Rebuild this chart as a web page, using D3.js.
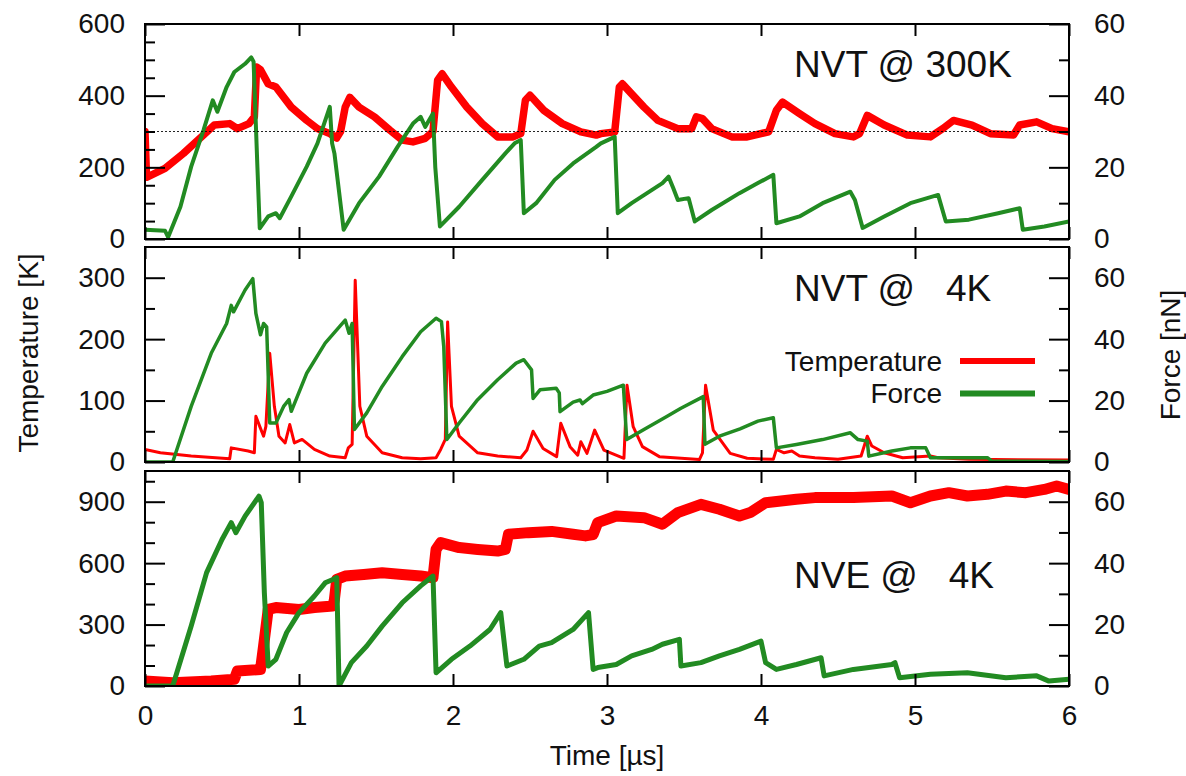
<!DOCTYPE html>
<html><head><meta charset="utf-8">
<script src="https://cdn.jsdelivr.net/npm/d3@7"></script>
<style>
html,body{margin:0;padding:0;background:#fff;}
svg text{font-family:"Liberation Sans",Arial,sans-serif;fill:#111;}
</style></head>
<body>
<svg id="chart" width="1186" height="776"></svg>
<script>
// ---------- data (time in µs) ----------
const xTicks = [0,1,2,3,4,5,6];

// Panel 1: NVT @ 300K
const nvt300Temp = [[0,300],[0.01,172],[0.13,197],[0.25,239],[0.38,290],[0.45,318],[0.55,322],[0.60,308],[0.675,322],[0.71,341],[0.725,480],[0.75,472],[0.80,433],[0.85,424],[0.95,368],[1.05,331],[1.12,308],[1.20,294],[1.245,282],[1.27,300],[1.30,368],[1.33,395],[1.39,368],[1.49,341],[1.59,304],[1.67,276],[1.74,271],[1.82,281],[1.87,300],[1.90,443],[1.93,461],[1.99,424],[2.09,368],[2.19,322],[2.29,285],[2.39,285],[2.44,294],[2.47,387],[2.50,401],[2.59,359],[2.71,322],[2.83,299],[2.93,290],[2.96,294],[3.05,299],[3.08,424],[3.10,433],[3.16,405],[3.24,368],[3.33,331],[3.46,308],[3.55,308],[3.58,341],[3.62,336],[3.68,308],[3.81,285],[3.91,285],[4.05,299],[4.10,359],[4.14,382],[4.25,350],[4.35,322],[4.48,294],[4.60,285],[4.64,294],[4.69,345],[4.80,318],[4.95,290],[5.10,285],[5.18,308],[5.25,331],[5.37,318],[5.49,294],[5.64,290],[5.68,318],[5.79,327],[5.89,308],[6.0,299]];
const nvt300Force = [[0,2.6],[0.13,2.3],[0.15,0.5],[0.23,9],[0.30,20.2],[0.38,30.4],[0.44,38.7],[0.47,35.5],[0.53,42.4],[0.58,46.6],[0.65,48.9],[0.69,50.7],[0.705,49.5],[0.73,20],[0.745,3],[0.80,6.3],[0.85,7.2],[0.875,5.8],[0.95,11.9],[1.05,20.2],[1.12,26.7],[1.20,36.9],[1.215,26.7],[1.23,23.9],[1.29,2.6],[1.39,10],[1.52,17.4],[1.64,25.7],[1.74,32.2],[1.79,34.1],[1.82,31.3],[1.87,35],[1.885,20],[1.915,3.5],[2.04,9],[2.19,16.5],[2.34,23.9],[2.40,26.7],[2.44,27.6],[2.46,7.2],[2.54,10],[2.66,16.5],[2.78,21.1],[2.93,25.7],[2.96,26.7],[3.05,28.5],[3.07,7.2],[3.16,10],[3.26,12.8],[3.36,15.6],[3.40,17.4],[3.43,14.2],[3.46,10.9],[3.53,11.4],[3.57,4.9],[3.68,8.1],[3.86,12.8],[3.98,15.6],[4.08,17.9],[4.10,4.4],[4.25,6.3],[4.40,10],[4.58,13.2],[4.61,10.9],[4.66,3.1],[4.80,6.3],[4.97,10],[5.15,12.3],[5.20,4.9],[5.35,5.4],[5.54,7.2],[5.68,8.6],[5.70,2.6],[5.84,3.5],[6.0,4.9]];

// Panel 2: NVT @ 4K
const nvt4Temp = [[0,20.5],[0.10,15],[0.30,9.7],[0.55,5.4],[0.56,23],[0.67,17.8],[0.71,15],[0.72,74.5],[0.745,58],[0.77,42],[0.785,58],[0.81,177],[0.84,90.7],[0.87,42],[0.91,31],[0.94,61],[0.97,31],[1.02,36.7],[1.10,20.5],[1.20,9.7],[1.30,7],[1.32,23],[1.345,28.6],[1.365,296],[1.395,90.7],[1.44,42],[1.54,15],[1.67,7],[1.79,5.4],[1.89,7],[1.92,20.5],[1.95,36.7],[1.965,228],[1.99,90.7],[2.04,42],[2.16,15],[2.29,9.7],[2.44,7],[2.48,19.5],[2.52,50],[2.585,22],[2.673,8.7],[2.70,63],[2.76,25],[2.81,11],[2.83,33],[2.87,14],[2.92,52],[2.98,19.5],[3.09,8],[3.11,6],[3.13,125],[3.17,57.5],[3.23,25],[3.34,8.7],[3.60,4],[3.62,15],[3.64,125],[3.69,52],[3.80,14],[3.91,6],[4.08,4.3],[4.10,20.5],[4.15,15],[4.20,17.8],[4.25,9.7],[4.35,7],[4.50,4.3],[4.65,9.7],[4.69,42],[4.72,26],[4.80,15],[4.92,7],[5.10,9.7],[5.15,7],[5.35,4.3],[6.0,3.2]];
const nvt4Force = [[0,0],[0.18,0],[0.30,18.1],[0.43,35.4],[0.53,45.1],[0.56,51],[0.575,48.9],[0.65,56],[0.70,59.7],[0.72,48.4],[0.75,41.4],[0.77,45.1],[0.79,44],[0.81,12.7],[0.85,12.7],[0.90,18.1],[0.935,20.3],[0.95,16.5],[1.05,28.9],[1.17,38.7],[1.30,46.2],[1.325,41.9],[1.345,45.1],[1.36,10.6],[1.44,16],[1.54,24.6],[1.67,34.3],[1.79,42.4],[1.89,46.8],[1.925,45.7],[1.94,37.6],[1.96,7.3],[2.04,12.7],[2.16,20.3],[2.29,26.8],[2.41,32.2],[2.46,33.3],[2.51,30],[2.52,20.7],[2.565,23.5],[2.67,24],[2.69,22.5],[2.695,16.4],[2.78,19.5],[2.825,20.2],[2.84,19],[2.91,21.8],[3.0,23],[3.106,25],[3.128,7.3],[3.24,10.6],[3.388,14.8],[3.48,17.5],[3.625,21.3],[3.636,5.8],[3.73,8.4],[3.864,10.8],[3.98,13.3],[4.08,14.4],[4.10,4.6],[4.23,5.7],[4.40,7.3],[4.58,9.5],[4.63,7.3],[4.69,6.8],[4.70,1.9],[4.85,3.6],[4.97,4.6],[5.07,4.6],[5.10,1.4],[5.35,1.4],[5.47,1.4],[5.50,0.3],[6.0,0.2]];

// Panel 3: NVE @ 4K
const nve4Temp = [[0,24],[0.18,16],[0.43,24],[0.58,33],[0.60,73],[0.75,81],[0.77,195],[0.80,374],[0.85,383],[1.0,374],[1.10,383],[1.22,391],[1.23,423],[1.245,521],[1.30,537],[1.42,545],[1.54,553],[1.67,545],[1.79,537],[1.87,529],[1.89,667],[1.92,700],[2.04,676],[2.16,667],[2.29,659],[2.34,667],[2.36,741],[2.49,749],[2.64,755],[2.78,741],[2.86,733],[2.91,740],[2.94,798],[3.06,830],[3.24,822],[3.36,790],[3.46,847],[3.61,887],[3.73,863],[3.86,830],[3.93,847],[4.03,895],[4.23,912],[4.35,920],[4.60,920],[4.85,928],[4.97,895],[5.10,928],[5.22,944],[5.34,928],[5.47,936],[5.59,952],[5.72,944],[5.84,960],[5.92,977],[6.0,960]];
const nve4Force = [[0,0],[0.18,0],[0.30,19.5],[0.40,36.9],[0.50,47.7],[0.56,53.2],[0.59,49.9],[0.65,55.3],[0.74,61.8],[0.755,59.7],[0.775,30.4],[0.80,6.5],[0.85,8.7],[0.92,17.4],[1.0,23.9],[1.10,29.3],[1.17,33.6],[1.22,34.7],[1.245,35.3],[1.26,0],[1.34,7.6],[1.44,13],[1.54,19.5],[1.67,27.1],[1.79,32.6],[1.87,35.8],[1.89,4.3],[1.99,8.7],[2.11,13],[2.24,18.4],[2.31,23.9],[2.35,6.5],[2.46,8.7],[2.56,13],[2.64,14.1],[2.78,18.4],[2.88,23.9],[2.91,5.4],[2.94,6],[3.06,7],[3.16,9.8],[3.29,11.9],[3.36,13.6],[3.47,15.2],[3.48,6.5],[3.61,7.6],[3.73,9.8],[3.86,11.9],[4.0,14.6],[4.03,7.6],[4.10,5.4],[4.23,7],[4.39,9.2],[4.41,3.3],[4.60,5.4],[4.85,7],[4.87,7.6],[4.90,2.7],[5.10,3.8],[5.34,4.3],[5.59,2.7],[5.79,3.3],[5.87,1.6],[6.0,2.2]];

// tick labels
const p1TempTicks = [0,200,400,600], p1TempMinor = [50,100,150,250,300,350,450,500,550];
const p2TempTicks = [0,100,200,300], p2TempMinor = [50,150,250];
const p3TempTicks = [0,300,600,900], p3TempMinor = [100,200,400,500,700,800,1000];
const forceTicks = [0,20,40,60], forceMinor = [10,30,50];
const panelLabels = ["NVT @ 300K","NVT @   4K","NVE @   4K"];
const legendLabels = ["Temperature","Force"];
const refTemp = 300;

// ---------- drawing ----------
const RED = "#ff0000", GREEN = "#228b22";
const svg = d3.select("#chart");
const X0 = 145, X1 = 1069;
const x = d3.scaleLinear().domain([0,6]).range([X0,X1]);

const panels = [
  {top:24, bottom:239, tMax:600, fMax:60, tT:p1TempTicks, tM:p1TempMinor, T:nvt300Temp, F:nvt300Force, tw:7.5, fw:4, label:panelLabels[0], ly:77, ref:true},
  {top:247, bottom:462, tMax:350, fMax:70, tT:p2TempTicks, tM:p2TempMinor, T:nvt4Temp, F:nvt4Force, tw:3, fw:3.5, label:panelLabels[1], ly:301, legend:true},
  {top:471, bottom:686, tMax:1050, fMax:70, tT:p3TempTicks, tM:p3TempMinor, T:nve4Temp, F:nve4Force, tw:11, fw:5, label:panelLabels[2], ly:588, xlabels:true}
];

const FS = 28;
panels.forEach((p,i)=>{
  const yT = d3.scaleLinear().domain([0,p.tMax]).range([p.bottom,p.top]);
  const yF = d3.scaleLinear().domain([0,p.fMax]).range([p.bottom,p.top]);
  const g = svg.append("g");
  const cid = "clip"+i;
  svg.append("clipPath").attr("id",cid).append("rect")
    .attr("x",X0).attr("y",p.top).attr("width",X1-X0).attr("height",p.bottom-p.top);

  const data = g.append("g").attr("clip-path",`url(#${cid})`);
  const lineT = d3.line().x(d=>x(d[0])).y(d=>yT(d[1]));
  const lineF = d3.line().x(d=>x(d[0])).y(d=>yF(d[1]));
  data.append("path").attr("d",lineT(p.T)).attr("fill","none").attr("stroke",RED)
    .attr("stroke-width",p.tw).attr("stroke-linejoin","round").attr("stroke-linecap","round");
  data.append("path").attr("d",lineF(p.F)).attr("fill","none").attr("stroke",GREEN)
    .attr("stroke-width",p.fw).attr("stroke-linejoin","round").attr("stroke-linecap","round");
  if(p.ref){
    data.append("line").attr("x1",X0).attr("x2",X1).attr("y1",yT(refTemp)).attr("y2",yT(refTemp))
      .attr("stroke","#000").attr("stroke-width",1).attr("stroke-dasharray","2,2").attr("opacity",0.85);
  }

  const styleAxis = sel => {
    sel.select(".domain").remove();
    sel.selectAll(".tick line").attr("stroke","#000").attr("stroke-width",2);
    sel.selectAll(".tick text").attr("font-size",FS).attr("fill","#111");
  };
  // left axis
  g.append("g").attr("transform",`translate(${X0},0)`)
    .call(d3.axisLeft(yT).tickValues(p.tT).tickSize(-20).tickPadding(20).tickFormat(d3.format("d"))).call(styleAxis);
  g.append("g").attr("transform",`translate(${X0},0)`)
    .call(d3.axisLeft(yT).tickValues(p.tM).tickSize(-10).tickFormat("")).call(styleAxis);
  // right axis
  g.append("g").attr("transform",`translate(${X1},0)`)
    .call(d3.axisRight(yF).tickValues(forceTicks).tickSize(-20).tickPadding(25).tickFormat(d3.format("d"))).call(styleAxis);
  g.append("g").attr("transform",`translate(${X1},0)`)
    .call(d3.axisRight(yF).tickValues(forceMinor).tickSize(-10).tickFormat("")).call(styleAxis);
  // x ticks top & bottom
  g.append("g").attr("transform",`translate(0,${p.top})`)
    .call(d3.axisTop(x).tickValues(xTicks).tickSize(-12).tickFormat("")).call(styleAxis);
  g.append("g").attr("transform",`translate(0,${p.bottom})`)
    .call(d3.axisBottom(x).tickValues(xTicks).tickSize(-12).tickPadding(19)
      .tickFormat(p.xlabels ? d3.format("d") : "")).call(styleAxis);

  // border
  g.append("rect").attr("x",X0).attr("y",p.top).attr("width",X1-X0).attr("height",p.bottom-p.top)
    .attr("fill","none").attr("stroke","#000").attr("stroke-width",2);

  // panel label
  g.append("text").attr("x",794).attr("y",p.ly).attr("font-size",37)
    .attr("xml:space","preserve").style("white-space","pre").text(p.label);

  if(p.legend){
    const lg = g.append("g");
    const rows = [{t:legendLabels[0],c:RED,y:361},{t:legendLabels[1],c:GREEN,y:393.5}];
    rows.forEach(r=>{
      lg.append("text").attr("x",942).attr("y",r.y).attr("dy","0.35em").attr("text-anchor","end")
        .attr("font-size",28).text(r.t);
      lg.append("line").attr("x1",960).attr("x2",1035).attr("y1",r.y).attr("y2",r.y)
        .attr("stroke",r.c).attr("stroke-width",6);
    });
  }
});

// axis titles
svg.append("text").attr("transform","translate(38,353) rotate(-90)").attr("text-anchor","middle")
  .attr("font-size",28).text("Temperature [K]");
svg.append("text").attr("transform","translate(1180,355) rotate(-90)").attr("text-anchor","middle")
  .attr("font-size",28).text("Force [nN]");
svg.append("text").attr("x",(X0+X1)/2).attr("y",765).attr("text-anchor","middle")
  .attr("font-size",28).text("Time [µs]");
</script>
</body></html>
